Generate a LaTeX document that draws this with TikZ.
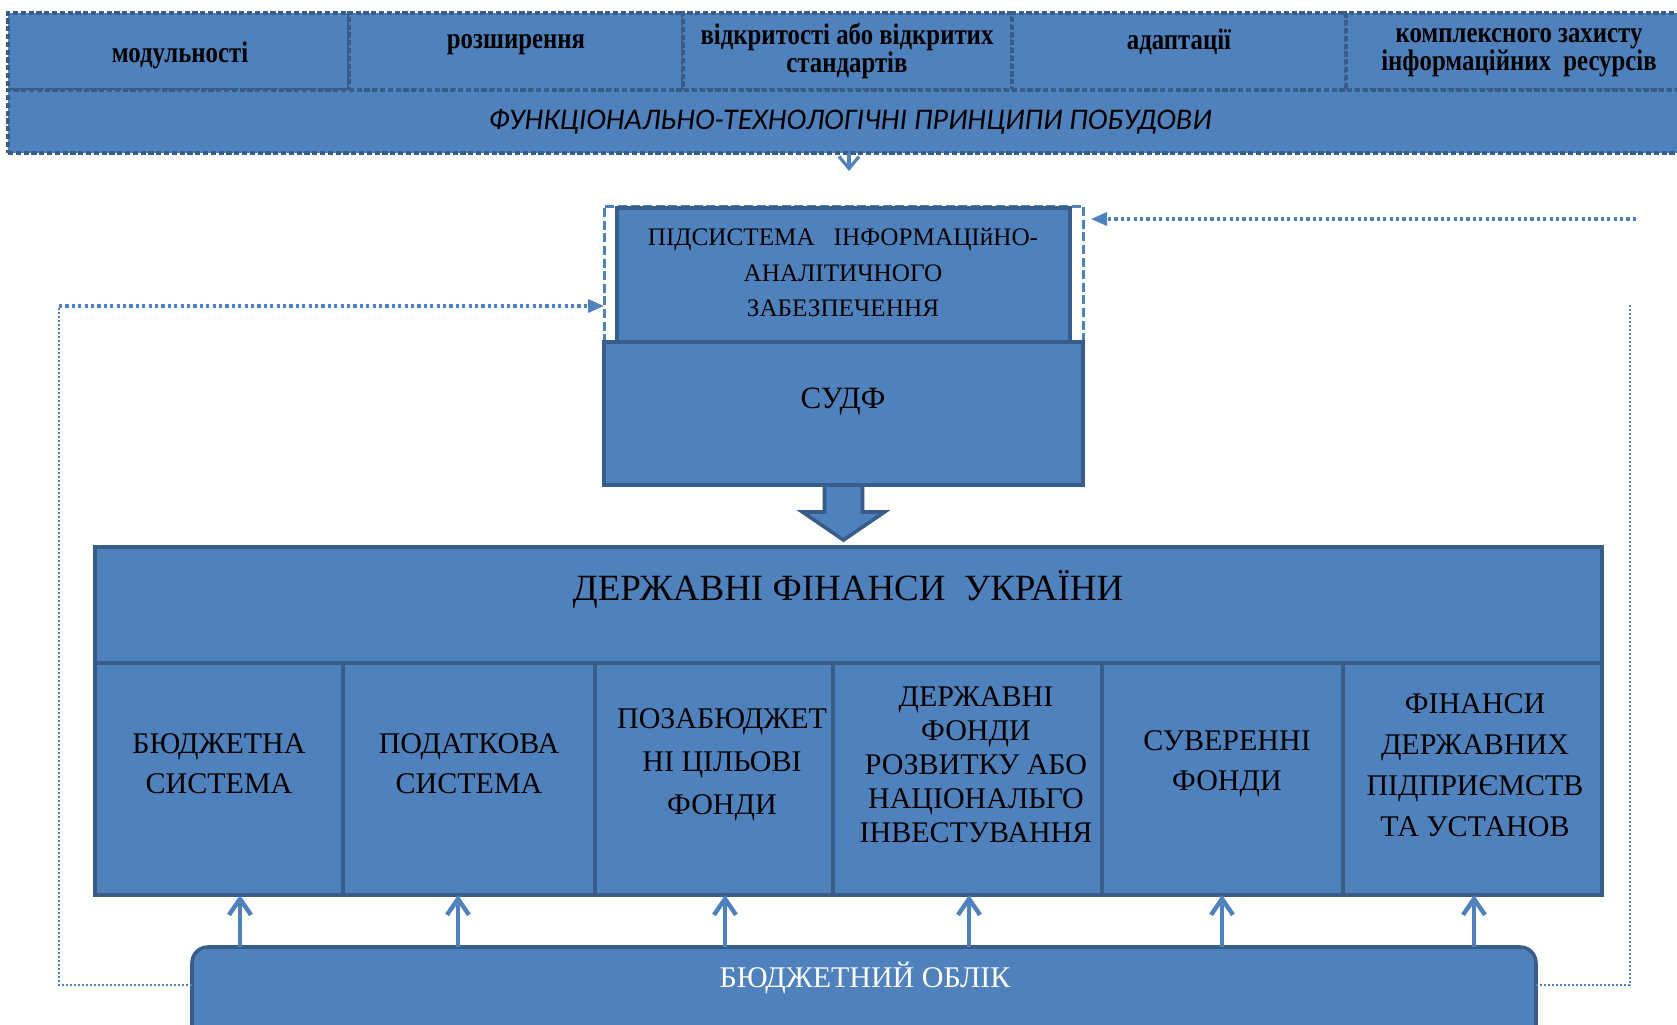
\documentclass[tikz,border=0pt]{standalone}
\usepackage{fontspec}
\usepackage{graphicx}
\setmainfont{Liberation Serif}
\newfontfamily\carlito{Carlito}
\usetikzlibrary{arrows.meta}
\definecolor{bfill}{HTML}{4F81BD}
\definecolor{bdark}{HTML}{385D8A}
\newcommand\stk[1]{\scalebox{1}[1.2]{\begin{tabular}{@{}c@{}}#1\end{tabular}}}
\begin{document}
\begin{tikzpicture}[x=0.5pt,y=-0.5pt,
 box/.style={draw=bdark,fill=bfill,line width=1.8pt,inner sep=0pt,outer sep=0pt},
 pcell/.style={draw=bdark,fill=bfill,line width=2.2pt,dash pattern=on 2.6pt off 1.3pt,inner sep=0pt,outer sep=0pt},
 btxt/.style={font=\fontsize{12.4}{10.6}\selectfont\bfseries,inner sep=0pt},
 rtxt/.style={font=\fontsize{15}{20}\selectfont,align=center,inner sep=0pt},
 dotthick/.style={draw=bfill,line width=1.6pt,dash pattern=on 1.6pt off 1.6pt},
 dotthin/.style={draw=bfill,line width=1pt,dash pattern=on 1pt off 1pt},
 uparr/.style={draw=bfill,line width=2.2pt,-{Straight Barb[length=8pt,width=11pt]}},
]
\useasboundingbox (0,0) rectangle (1677,1024);
\clip (0,0) rectangle (1677,1024);
\fill[white] (0,0) rectangle (1677,1024);

% top band: principles
\node[pcell,minimum width=170.5pt,minimum height=38.5pt] (p1) at (178.5,51.5) {};
\node[pcell,minimum width=167pt,minimum height=38.5pt] (p2) at (516,51.5) {};
\node[pcell,minimum width=164.5pt,minimum height=38.5pt] (p3) at (847.5,51.5) {};
\node[pcell,minimum width=167pt,minimum height=38.5pt] (p4) at (1179,51.5) {};
\node[pcell,minimum width=172pt,minimum height=38.5pt] (p5) at (1518,51.5) {};
\node[pcell,minimum width=841pt,minimum height=31.5pt] (pr) at (849,121.5) {};

\node[btxt] (p1t) at (180,56) {\stk{модульності}};
\node[btxt] (p2t) at (516,43) {\stk{розширення}};
\node[btxt] (p3t) at (847,51.5) {\stk{відкритості або відкритих\\стандартів}};
\node[btxt] (p4t) at (1179,43) {\stk{адаптації}};
\node[btxt] (p5t) at (1519,51.5) {\stk{комплексного захисту\\інформаційних\ \ ресурсів}};
\node[font=\carlito\itshape\fontsize{15}{17}\selectfont,inner sep=0pt] (prt) at (850,122) {ФУНКЦІОНАЛЬНО-ТЕХНОЛОГІЧНІ ПРИНЦИПИ ПОБУДОВИ};

% subsystem
\node[draw=bfill,line width=1.5pt,dash pattern=on 4.5pt off 1.8pt,minimum width=239.5pt,minimum height=68pt,inner sep=0pt,outer sep=0pt] (subo) at (843.5,274) {};
\node[box,minimum width=226.5pt,minimum height=67pt] (sub) at (843.5,275) {};
\node[font=\fontsize{12.6}{17.8}\selectfont,align=center,inner sep=0pt] (subt) at (843,272.5) {ПІДСИСТЕМА\ \ \ ІНФОРМАЦІйНО-\\АНАЛІТИЧНОГО\\ЗАБЕЗПЕЧЕННЯ};

\coordinate (pa) at (849,171);
\draw[draw=bfill,line width=1.6pt,-{Straight Barb[length=6pt,width=10pt]}] (pr.south -| pa) -- (pa);

% SUDF
\node[box,minimum width=239.5pt,minimum height=71.5pt] (sudf) at (843.5,413.5) {};
\node[font=\fontsize{15.5}{18}\selectfont,inner sep=0pt] (sudft) at (843,402) {СУДФ};

% block arrow
\draw[box,line join=miter] (sudf.south) ++(-19,0) -- ++(0,27) -- ++(-22,0) -- ++(41,28) -- ++(41,-28) -- ++(-22,0) -- ++(0,-27) -- cycle;

% public finance
\node[box,minimum width=753.5pt,minimum height=58pt] (dfu) at (848.5,605) {};
\node[font=\fontsize{18.5}{22}\selectfont,inner sep=0pt] (dfut) at (848,589) {ДЕРЖАВНІ ФІНАНСИ\ \ УКРАЇНИ};

\node[box,minimum width=124pt,minimum height=116pt] (c1) at (219,779) {};
\node[box,minimum width=126pt,minimum height=116pt] (c2) at (469,779) {};
\node[box,minimum width=119pt,minimum height=116pt] (c3) at (714,779) {};
\node[box,minimum width=134.5pt,minimum height=116pt] (c4) at (967.5,779) {};
\node[box,minimum width=120.5pt,minimum height=116pt] (c5) at (1222.5,779) {};
\node[box,minimum width=129.5pt,minimum height=116pt] (c6) at (1472.5,779) {};

\node[rtxt] (c1t) at (219,764) {БЮДЖЕТНА\\СИСТЕМА};
\node[rtxt] (c2t) at (469,764) {ПОДАТКОВА\\СИСТЕМА};
\node[rtxt,font=\fontsize{15}{21.5}\selectfont] (c3t) at (722,765) {ПОЗАБЮДЖЕТ\\НІ ЦІЛЬОВІ\\ФОНДИ};
\node[rtxt,font=\fontsize{15}{17}\selectfont] (c4t) at (976,765) {ДЕРЖАВНІ\\ФОНДИ\\РОЗВИТКУ АБО\\НАЦІОНАЛЬГО\\ІНВЕСТУВАННЯ};
\node[rtxt] (c5t) at (1227,764) {СУВЕРЕННІ\\ФОНДИ};
\node[rtxt,font=\fontsize{15}{20.5}\selectfont] (c6t) at (1475,765) {ФІНАНСИ\\ДЕРЖАВНИХ\\ПІДПРИЄМСТВ\\ТА УСТАНОВ};

% budget accounting
\node[box,rounded corners=8pt,minimum width=672pt,minimum height=60pt] (bo) at (864,1007) {};
\node[font=\fontsize{15}{18}\selectfont,text=white,inner sep=0pt] (bot) at (865,978) {БЮДЖЕТНИЙ ОБЛІК};

\coordinate (a1) at (240,947);
\coordinate (a2) at (458,947);
\coordinate (a3) at (725,947);
\coordinate (a4) at (969,947);
\coordinate (a5) at (1222,947);
\coordinate (a6) at (1474,947);
\draw[uparr] (a1) -- (a1 |- c1.south);
\draw[uparr] (a2) -- (a2 |- c2.south);
\draw[uparr] (a3) -- (a3 |- c3.south);
\draw[uparr] (a4) -- (a4 |- c4.south);
\draw[uparr] (a5) -- (a5 |- c5.south);
\draw[uparr] (a6) -- (a6 |- c6.south);

% feedback dotted lines
\coordinate (lb) at (192,985);
\coordinate (lc) at (59,306);
\draw[dotthin] (lb) -| (lc);
\draw[dotthick,-{Triangle[length=8pt,width=6.5pt]}] (lc) -- (subo.west |- lc);

\coordinate (rb) at (1536,985);
\coordinate (rc) at (1630,305);
\draw[dotthin] (rb) -| (rc);
\coordinate (rt) at (1636,219);
\coordinate (rtip) at (1091,219);
\draw[dotthick,-{Triangle[length=8pt,width=6.5pt]}] (rt) -- (rtip);
\end{tikzpicture}
\end{document}
